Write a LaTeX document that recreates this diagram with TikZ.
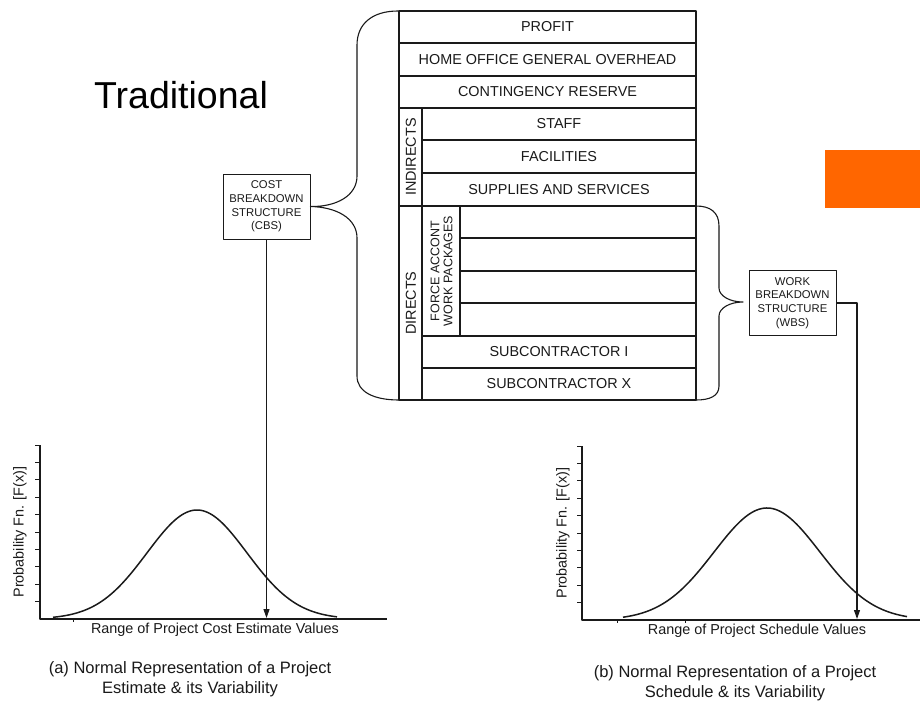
\documentclass[tikz,border=0pt]{standalone}
\usepackage{fontspec}
\setmainfont{Liberation Sans}
\usetikzlibrary{arrows.meta}
\newcommand{\fsz}[2]{\fontsize{#1}{#2}\selectfont}
\definecolor{accent}{HTML}{FF6600}
\definecolor{ink}{HTML}{1A1A1A}
\begin{document}
\begin{tikzpicture}[x=1pt,y=-1pt,line join=round,
  tline/.style={line width=1.2pt,draw=ink},
  brace/.style={line width=1.1pt,draw=ink},
  cell/.style={font=\fsz{14.4}{16},inner sep=0pt,text=ink},
  vcell/.style={cell,rotate=90},
  smallbox/.style={draw=ink,line width=0.9pt,minimum width=87pt,minimum height=65pt,inner sep=0pt,align=center,font=\fsz{11.3}{13.7},text=ink},
  axis/.style={line width=1.2pt,draw=ink},
  curve/.style={line width=1.5pt,draw=ink},
  conn/.style={line width=1.1pt,draw=ink,-{Triangle[length=9pt,width=6pt]}},
  lab/.style={font=\fsz{14.4}{16},inner sep=0pt,text=ink},
  captext/.style={font=\fsz{16.5}{20},inner sep=0pt,text=ink}]
\useasboundingbox (0,0) rectangle (920,701);
\fill[white] (0,0) rectangle (920,701);

% title and accent
\node[font=\fsz{37.5}{40},anchor=west,inner sep=0pt] (title) at (94,95) {Traditional};
\fill[accent] (825,150) rectangle (920,208);

% table
\draw[tline] (399,11) rectangle (696,400);
\draw[tline] (399,43) -- (696,43);
\draw[tline] (399,76) -- (696,76);
\draw[tline] (399,108) -- (696,108);
\draw[tline] (422,108) -- (422,400);
\draw[tline] (422,140) -- (696,140);
\draw[tline] (422,173) -- (696,173);
\draw[tline] (399,206) -- (696,206);
\draw[tline] (460,206) -- (460,336);
\draw[tline] (460,238) -- (696,238);
\draw[tline] (460,271) -- (696,271);
\draw[tline] (460,303) -- (696,303);
\draw[tline] (422,336) -- (696,336);
\draw[tline] (422,368) -- (696,368);

\node[cell] (profit) at (547.5,27) {PROFIT};
\node[cell] (hoo) at (547.5,59.5) {HOME OFFICE GENERAL OVERHEAD};
\node[cell] (cont) at (547.5,92) {CONTINGENCY RESERVE};
\node[cell] (staff) at (559,124) {STAFF};
\node[cell] (fac) at (559,157) {FACILITIES};
\node[cell] (sup) at (559,190) {SUPPLIES AND SERVICES};
\node[cell] (subi) at (559,352) {SUBCONTRACTOR I};
\node[cell] (subx) at (559,384) {SUBCONTRACTOR X};
\node[vcell] (ind) at (411,157) {INDIRECTS};
\node[vcell] (dir) at (411,303) {DIRECTS};
\node[vcell,font=\fsz{12.5}{13},align=center] (fawp) at (441.5,271) {FORCE ACCONT\\WORK PACKAGES};

% CBS box and brace
\node[smallbox] (cbs) at (266.5,206.5) {COST\\BREAKDOWN\\STRUCTURE\\(CBS)};
\draw[brace] (398,11) .. controls (372,11) and (357,24) .. (357,45) -- (357,176)
  .. controls (357,196) and (336,207) .. (cbs.east)
  .. controls (336,207) and (357,218) .. (357,238) -- (357,376)
  .. controls (357,392) and (374,400) .. (399,400);

% WBS box and brace
\node[smallbox] (wbs) at (792.5,303) {WORK\\BREAKDOWN\\STRUCTURE\\(WBS)};
\coordinate (wtip) at (743,302);
\draw[brace] (696,206) .. controls (710,206) and (719,212) .. (719,226) -- (719,288)
  .. controls (719,296) and (730,302) .. (wtip)
  .. controls (730,302) and (719,308) .. (719,316) -- (719,386)
  .. controls (719,396) and (710,400) .. (696,400);

% left plot
\draw[axis] (40,445) -- (40,619) -- (387,619);
\foreach \i in {0,...,9} \draw[axis,line width=1pt] (35,445+17.4*\i) -- (40,445+17.4*\i);
\draw[axis,line width=1pt] (73,619) -- (73,622);
\draw[curve] plot[domain=53:337,samples=120,smooth] (\x,{619-109*exp(-((\x-197)/50)^2/2)});
\node[lab,rotate=90] (ylA) at (20,532) {Probability Fn. [F(x)]};
\node[lab] (xlA) at (215,630) {Range of Project Cost Estimate Values};
\node[captext,align=center] (capA) at (190,679.5) {(a) Normal Representation of a Project\\Estimate \& its Variability};
\coordinate (cbsend) at (266.5,618);
\draw[conn] (cbs.south) -- (cbsend);

% right plot
\draw[axis] (582,446) -- (582,620) -- (920,620);
\foreach \i in {0,...,9} \draw[axis,line width=1pt] (577,446+17.4*\i) -- (582,446+17.4*\i);
\draw[axis,line width=1pt] (617,620) -- (617,623);
\draw[axis,line width=1pt] (685,620) -- (685,623);
\draw[curve] plot[domain=623:907,samples=120,smooth] (\x,{620-112*exp(-((\x-767)/53)^2/2)});
\node[lab,rotate=90] (ylB) at (563,533) {Probability Fn. [F(x)]};
\node[lab] (xlB) at (757,631) {Range of Project Schedule Values};
\node[captext,align=center] (capB) at (735,683) {(b) Normal Representation of a Project\\Schedule \& its Variability};
\coordinate (wbsend) at (857,619);
\draw[conn] (wbs.east) -| (wbsend);
\end{tikzpicture}
\end{document}
